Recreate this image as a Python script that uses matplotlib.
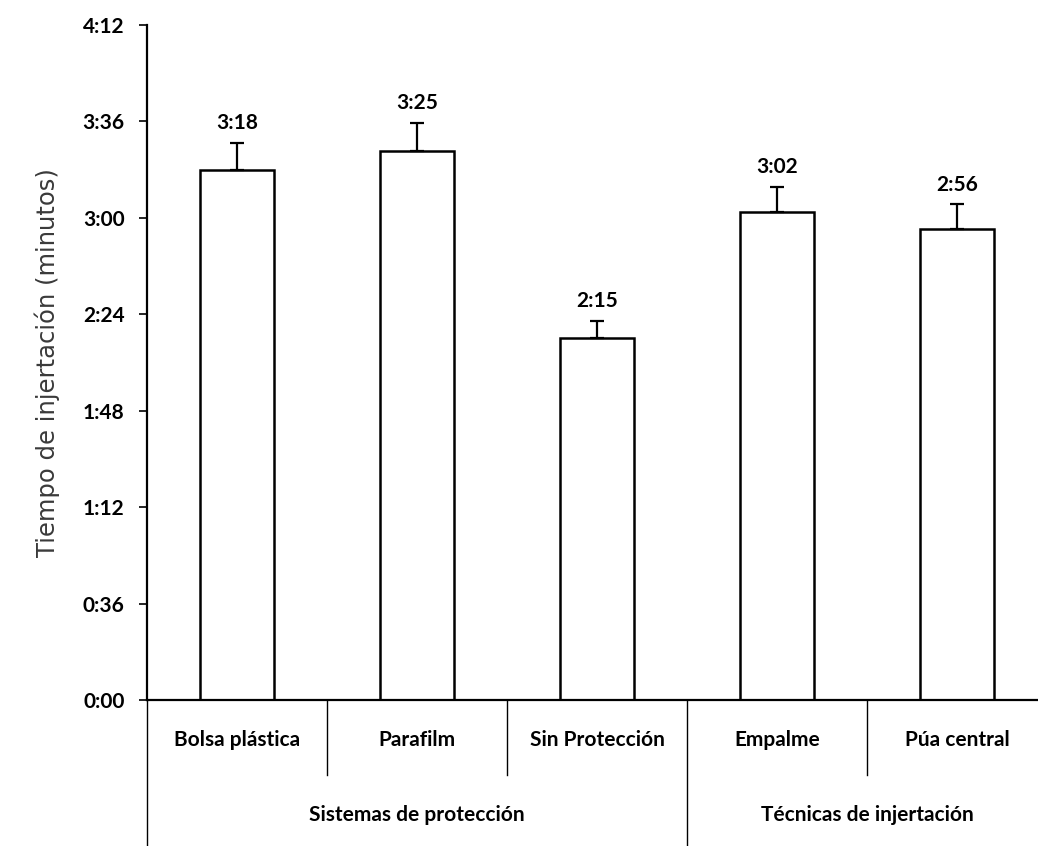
import matplotlib.pyplot as plt
from matplotlib.ticker import FuncFormatter
import matplotlib.transforms as mtransforms

# datos (segundos)
categorias = ["Bolsa plástica", "Parafilm", "Sin Protección", "Empalme", "Púa central"]
grupos = ["Sistemas de protección", "Técnicas de injertación"]
grupo_tam = [3, 2]
tiempos = [198, 205, 135, 182, 176]
errores = [10, 10.5, 6.5, 9.5, 9]
etiquetas = ["3:18", "3:25", "2:15", "3:02", "2:56"]

plt.rcParams["font.family"] = ["Lato", "DejaVu Sans"]

fig = plt.figure(figsize=(10.38, 8.46), dpi=100)
ax = fig.add_axes([147 / 1038, 146 / 846, 900 / 1038, 675 / 846])

x = list(range(len(categorias)))
ax.bar(x, tiempos, width=0.41, color="white", edgecolor="black", linewidth=1.8, zorder=2)
ax.errorbar(x, tiempos, yerr=[[0] * len(errores), errores], fmt="none",
            ecolor="black", elinewidth=1.6, capsize=5, capthick=1.6, zorder=3)

for xi, t, e, lab in zip(x, tiempos, errores, etiquetas):
    ax.annotate(lab, (xi, t + e), xytext=(0, 7), textcoords="offset points",
                ha="center", va="bottom", fontsize=15, fontweight="bold")

ax.set_xlim(-0.5, 4.5)
ax.set_ylim(0, 252)
ax.set_yticks(range(0, 253, 36))
ax.yaxis.set_major_formatter(FuncFormatter(lambda v, p: "%d:%02d" % (int(v) // 60, int(v) % 60)))
ax.tick_params(axis="y", labelsize=15, length=6, width=1.2, pad=10)
for lab in ax.get_yticklabels():
    lab.set_fontweight("bold")
ax.set_xticks([])

for s in ["top", "right"]:
    ax.spines[s].set_visible(False)
ax.spines["left"].set_linewidth(1.6)
ax.spines["bottom"].set_linewidth(1.6)

ax.set_ylabel("Tiempo de injertación (minutos)", fontsize=17.5, color="#3a3a3a",
              family="DejaVu Sans", labelpad=16)

# separadores y etiquetas de categoria
trans = mtransforms.blended_transform_factory(ax.transData, ax.transAxes)
corto = -75 / 675
largo = -150 / 675
limites = [-0.5]
acum = -0.5
for g in grupo_tam:
    acum += g
    limites.append(acum)
for b in range(6):
    xb = b - 0.5
    y0 = largo if xb in limites else corto
    ax.plot([xb, xb], [0, y0], transform=trans, color="black", lw=1.0, clip_on=False)

for xi, c in zip(x, categorias):
    ax.text(xi, -40 / 675, c, transform=trans, ha="center", va="center",
            fontsize=15, fontweight="bold")

inicio = -0.5
for g, n in zip(grupos, grupo_tam):
    ax.text(inicio + n / 2, -115 / 675, g, transform=trans, ha="center", va="center",
            fontsize=15, fontweight="bold")
    inicio += n

fig.savefig("out.png", dpi=100)
